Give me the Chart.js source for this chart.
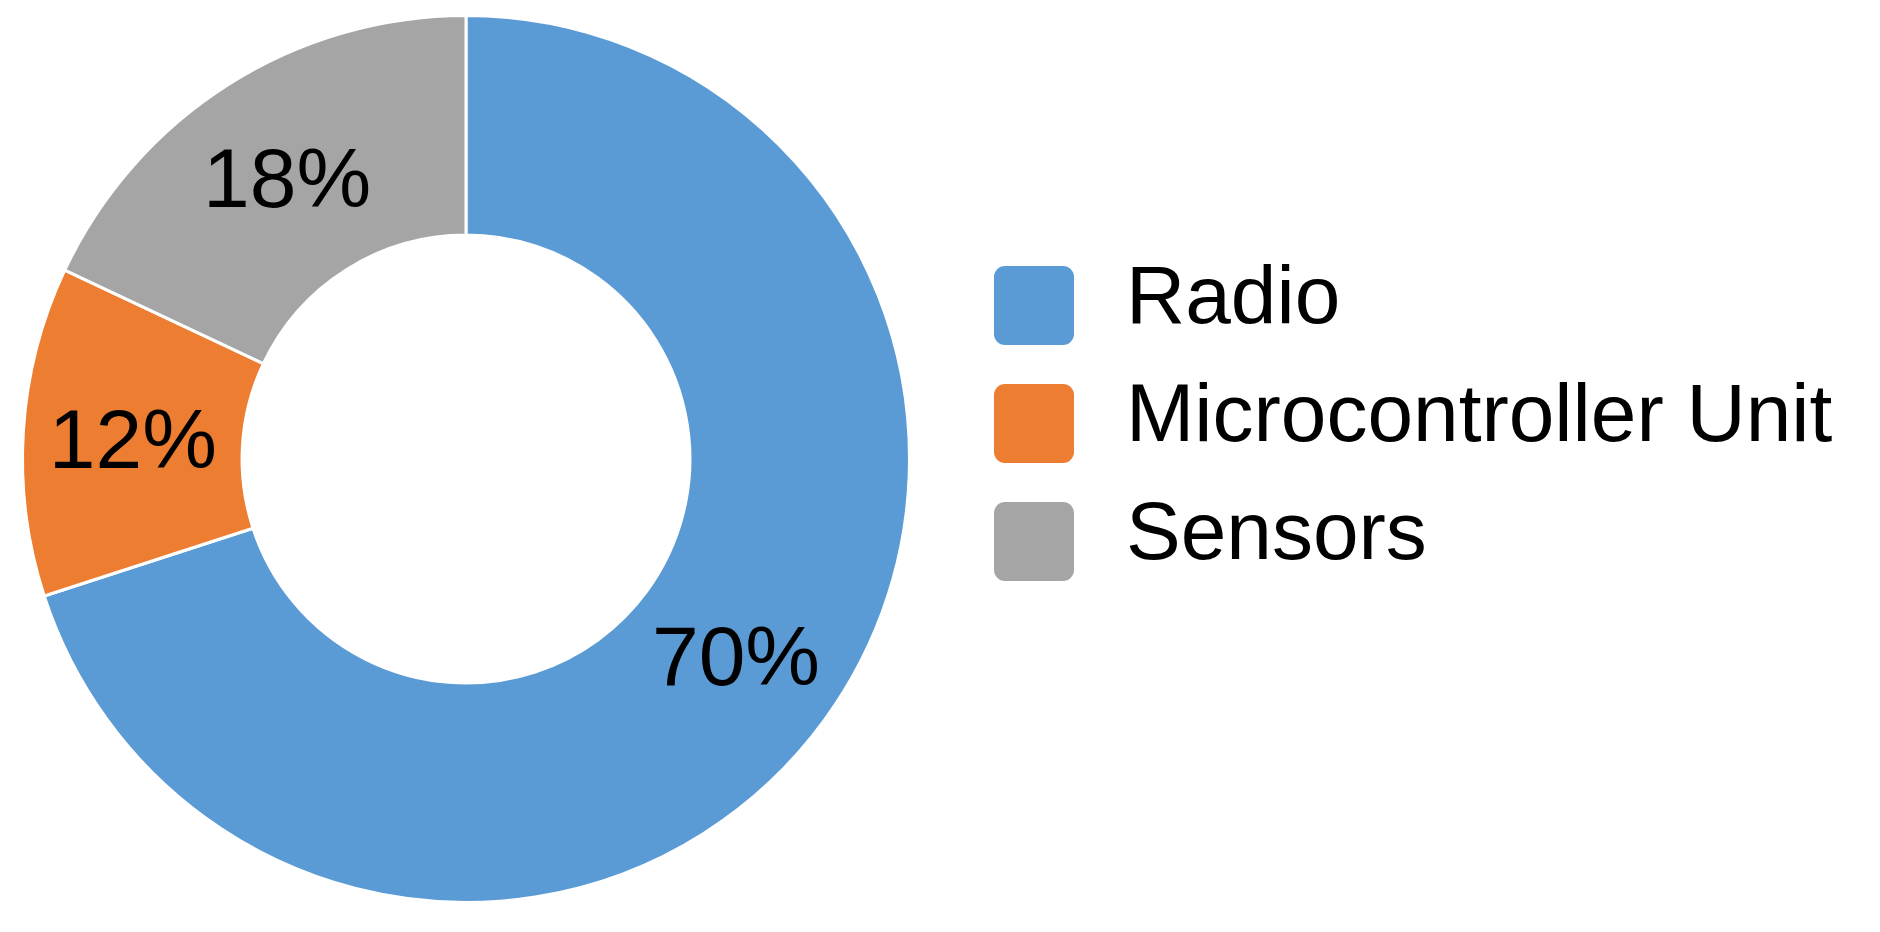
<!DOCTYPE html>
<html>
<head>
<meta charset="utf-8">
<script src="https://cdn.jsdelivr.net/npm/chart.js@4.4.0/dist/chart.umd.min.js"></script>
<style>
  body { margin: 0; background: #fff; width: 1880px; height: 932px; overflow: hidden; position: relative; font-family: "Liberation Sans", Arial, sans-serif; }
  #chartBox { position: absolute; left: 0; top: 0; width: 932px; height: 932px; }
  #legend { position: absolute; left: 994px; top: 266px; }
  .item { display: flex; align-items: center; height: 79px; margin-bottom: 39px; }
  .swatch { width: 80px; height: 79px; border-radius: 11px; margin-right: 52px; }
  .item span { font-size: 82px; color: #000; line-height: 79px; position: relative; top: -11px; }
</style>
</head>
<body>
<div id="chartBox"><canvas id="donutChart"></canvas></div>
<div id="legend"></div>
<script>
const labels = ["Radio", "Microcontroller Unit", "Sensors"];
const shares = [70, 12, 18];
const colors = ["#5B9BD5", "#ED7D31", "#A5A5A5"];

// draws the percentage text in the middle of each slice
const sliceLabels = {
  id: "sliceLabels",
  afterDatasetsDraw(chart) {
    const ctx = chart.ctx;
    const meta = chart.getDatasetMeta(0);
    const size = 84;
    ctx.save();
    ctx.font = size + 'px "Liberation Sans", Arial, sans-serif';
    ctx.fillStyle = "#000";
    ctx.textAlign = "center";
    ctx.textBaseline = "alphabetic";
    meta.data.forEach((arc, i) => {
      const p = arc.getCenterPoint();
      // shift so the digits sit centred on the point
      ctx.fillText(shares[i] + "%", p.x, p.y + size * 0.358);
    });
    ctx.restore();
  },
};

new Chart(document.getElementById("donutChart"), {
  type: "doughnut",
  data: {
    labels: labels,
    datasets: [
      {
        data: shares,
        backgroundColor: colors,
        borderColor: "#fff",
        borderWidth: 3,
      },
    ],
  },
  options: {
    responsive: true,
    maintainAspectRatio: false,
    animation: false,
    cutout: "50.5%",
    layout: { padding: { top: 14, bottom: 28 } },
    plugins: {
      legend: { display: false },
      tooltip: { enabled: false },
    },
  },
  plugins: [sliceLabels],
});

// legend on the right side
const legendEl = document.getElementById("legend");
labels.forEach((label, i) => {
  const item = document.createElement("div");
  item.className = "item";
  const swatch = document.createElement("div");
  swatch.className = "swatch";
  swatch.style.background = colors[i];
  const text = document.createElement("span");
  text.textContent = label;
  item.appendChild(swatch);
  item.appendChild(text);
  legendEl.appendChild(item);
});
</script>
</body>
</html>
